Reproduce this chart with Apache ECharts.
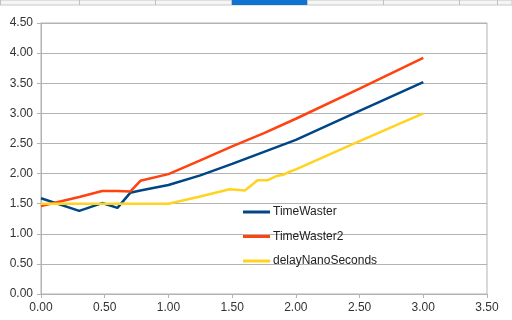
<!DOCTYPE html>
<html>
<head>
<meta charset="utf-8">
<script src="https://cdn.jsdelivr.net/npm/echarts@6/dist/echarts.min.js"></script>
<style>
html, body { margin: 0; padding: 0; background: #fff; }
#main { width: 512px; height: 320px; }
</style>
</head>
<body>
<div id="main"></div>
<script>
// 数据
var names = ['TimeWaster', 'TimeWaster2', 'delayNanoSeconds'];
var colors = ['#004586', '#ff420e', '#ffd320'];

var xTimeWaster = [0, 0.3, 0.48, 0.6, 0.7, 0.78, 1.0, 1.25, 1.5, 1.75, 2.0, 2.5, 3.0];
var yTimeWaster = [1.59, 1.38, 1.51, 1.43, 1.68, 1.72, 1.81, 1.97, 2.16, 2.36, 2.56, 3.04, 3.52];

var xTimeWaster2 = [0, 0.3, 0.48, 0.6, 0.7, 0.78, 1.0, 1.25, 1.5, 1.75, 2.0, 2.5, 3.0];
var yTimeWaster2 = [1.46, 1.61, 1.71, 1.71, 1.70, 1.88, 1.99, 2.22, 2.45, 2.67, 2.91, 3.41, 3.92];

var xDelay = [0, 1.0, 1.25, 1.48, 1.6, 1.7, 1.78, 1.85, 1.9, 1.95, 2.0, 2.5, 3.0];
var yDelay = [1.50, 1.50, 1.62, 1.74, 1.72, 1.89, 1.89, 1.96, 1.98, 2.03, 2.07, 2.54, 3.00];

function pairs(xs, ys) {
    return xs.map(function (x, i) { return [x, ys[i]]; });
}

var seriesData = [
    pairs(xTimeWaster, yTimeWaster),
    pairs(xTimeWaster2, yTimeWaster2),
    pairs(xDelay, yDelay)
];

var myChart = echarts.init(document.getElementById('main'));

var font = '"Liberation Sans", Arial, sans-serif';
var gridColor = '#b3b3b3';

// 表格顶部的列标题栏（装饰）
var headerCols = [0, 79, 155, 231, 307, 383, 459, 497];
var header = [{
    type: 'rect',
    shape: { x: 0, y: 0, width: 512, height: 5 },
    style: { fill: '#f5f5f5', stroke: '#c8c8c8', lineWidth: 1 },
    silent: true
}, {
    type: 'rect',
    shape: { x: 231, y: 0, width: 76, height: 5 },
    style: { fill: '#0f74d1' },
    silent: true
}];
headerCols.forEach(function (x) {
    header.push({
        type: 'line',
        shape: { x1: x + 0.5, y1: 0, x2: x + 0.5, y2: 5 },
        style: { stroke: '#c0c0c0', lineWidth: 1 },
        silent: true
    });
});

var option = {
    backgroundColor: '#fff',
    animation: false,
    textStyle: { fontFamily: font },
    graphic: header,
    grid: {
        left: 41,
        right: 25,
        top: 23,
        bottom: 26,
        show: true,
        borderColor: gridColor,
        borderWidth: 1
    },
    legend: {
        orient: 'vertical',
        left: 243,
        top: 206,
        padding: 0,
        itemWidth: 27,
        itemHeight: 3,
        itemGap: 12.5,
        icon: 'rect',
        textStyle: { fontSize: 12, color: '#222', fontFamily: font, padding: [0, 0, 0, -2] },
        data: names
    },
    xAxis: {
        type: 'value',
        min: 0,
        max: 3.5,
        interval: 0.5,
        splitLine: { show: false },
        axisLine: { show: true, lineStyle: { color: gridColor, width: 1 } },
        axisTick: { show: true, length: 4, lineStyle: { color: gridColor } },
        axisLabel: {
            margin: 8,
            fontSize: 12,
            color: '#333',
            fontFamily: font,
            formatter: function (v) { return v.toFixed(2); }
        }
    },
    yAxis: {
        type: 'value',
        min: 0,
        max: 4.5,
        interval: 0.5,
        splitLine: { show: true, lineStyle: { color: gridColor, width: 1 } },
        axisLine: { show: true, lineStyle: { color: gridColor, width: 1 } },
        axisTick: { show: true, length: 4, lineStyle: { color: gridColor } },
        axisLabel: {
            margin: 8,
            fontSize: 12,
            color: '#333',
            fontFamily: font,
            formatter: function (v) { return v.toFixed(2); }
        }
    },
    series: names.map(function (name, i) {
        return {
            name: name,
            type: 'line',
            showSymbol: false,
            symbol: 'none',
            lineStyle: { width: 2.5, color: colors[i] },
            itemStyle: { color: colors[i] },
            data: seriesData[i]
        };
    })
};

myChart.setOption(option);
</script>
</body>
</html>
